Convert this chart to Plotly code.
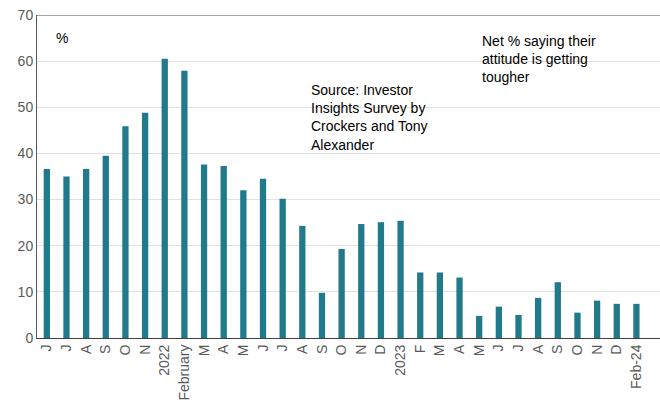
import plotly.graph_objects as go

# months from June 2021 to February 2024
months = ["J", "J", "A", "S", "O", "N", "2022", "February", "M", "A", "M", "J",
          "J", "A", "S", "O", "N", "D", "2023", "F", "M", "A", "M", "J", "J",
          "A", "S", "O", "N", "D", "Feb-24"]

# net % saying their attitude is getting tougher
net_tougher = [36.6, 35.0, 36.6, 39.5, 45.9, 48.8, 60.5, 57.9, 37.6, 37.3, 32.0, 34.5,
               30.2, 24.3, 9.8, 19.3, 24.7, 25.1, 25.4, 14.2, 14.2, 13.1, 4.8, 6.8, 5.0,
               8.7, 12.1, 5.5, 8.1, 7.4, 7.4]

positions = list(range(len(months)))

fig = go.Figure(data=[go.Bar(
    x=positions,
    y=net_tougher,
    marker_color='#217A8B',
    marker_line_width=0,
    width=0.32,
    hoverinfo='skip'
)])

font_name = "Liberation Sans, Arial, sans-serif"

fig.update_layout(
    width=660, height=406,
    margin=dict(l=37, r=0, t=15, b=68),
    plot_bgcolor='white',
    paper_bgcolor='white',
    showlegend=False,
    font=dict(family=font_name, size=14, color='#595959'),
    xaxis=dict(
        tickmode='array',
        tickvals=positions,
        ticktext=months,
        tickangle=-90,
        range=[-0.5, 31.2],
        showline=True,
        linecolor='#404040',
        linewidth=1,
        showgrid=False,
        ticks='',
        automargin=False,
        tickfont=dict(size=14, color='#595959'),
    ),
    yaxis=dict(
        range=[0, 70],
        dtick=10,
        showline=True,
        linecolor='#595959',
        linewidth=1,
        gridcolor='#E0E0E0',
        gridwidth=1,
        zeroline=False,
        ticks='',
        automargin=False,
        tickfont=dict(size=14, color='#595959'),
    ),
    shapes=[dict(type='line', xref='paper', yref='y', x0=0, x1=1, y0=70, y1=70,
                 line=dict(color='#A6A6A6', width=2))],
    annotations=[
        dict(text="%", xref='paper', yref='paper', x=0.028, y=0.93,
             xanchor='left', yanchor='middle', showarrow=False,
             font=dict(size=14, color='#000000')),
        dict(text="Net % saying their<br>attitude is getting<br>tougher",
             xref='paper', yref='paper', x=0.711, y=0.95,
             xanchor='left', yanchor='top', showarrow=False, align='left',
             font=dict(size=14, color='#000000')),
        dict(text="Source: Investor<br>Insights Survey by<br>Crockers and Tony<br>Alexander",
             xref='paper', yref='paper', x=0.436, y=0.80,
             xanchor='left', yanchor='top', showarrow=False, align='left',
             font=dict(size=14, color='#000000')),
    ],
)

# drop the default page margin so the figure sits at the window's corner
fig.write_html("out.html", config={"displayModeBar": False},
               post_script="document.body.style.margin='0';")
